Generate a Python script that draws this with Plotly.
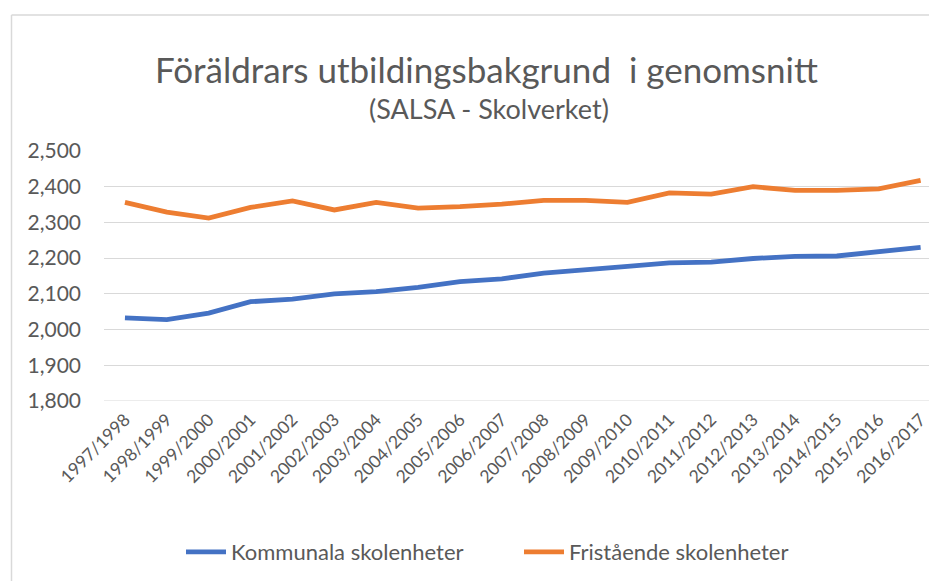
import plotly.graph_objects as go

categories = ["1997/1998", "1998/1999", "1999/2000", "2000/2001", "2001/2002",
              "2002/2003", "2003/2004", "2004/2005", "2005/2006", "2006/2007",
              "2007/2008", "2008/2009", "2009/2010", "2010/2011", "2011/2012",
              "2012/2013", "2013/2014", "2014/2015", "2015/2016", "2016/2017"]
kommunala = [2033, 2028, 2046, 2078, 2085, 2100, 2106, 2118, 2134, 2142,
             2158, 2166, 2177, 2187, 2189, 2199, 2205, 2206, 2218, 2230]
fristaende = [2356, 2329, 2312, 2342, 2360, 2335, 2356, 2340, 2344, 2351,
              2362, 2362, 2356, 2383, 2379, 2400, 2390, 2390, 2394, 2418]
y_ticks = [1800, 1900, 2000, 2100, 2200, 2300, 2400, 2500]
y_ticklabels = ["1,800", "1,900", "2,000", "2,100", "2,200", "2,300", "2,400", "2,500"]

FONT = "Lato"
GREY = "#595959"
W, H = 929, 581
L, R, T, B = 104, 0, 151, 180
PW, PH = W - L - R, H - T - B

def px_x(px):
    return (px - L) / PW

def px_y(py):
    return (H - B - py) / PH

fig = go.Figure()
fig.add_trace(go.Scatter(x=list(range(len(categories))), y=kommunala, mode="lines",
                         name="Kommunala skolenheter",
                         line=dict(color="#4472C4", width=4.8)))
fig.add_trace(go.Scatter(x=list(range(len(categories))), y=fristaende, mode="lines",
                         name="Fristående skolenheter",
                         line=dict(color="#ED7D31", width=4.8)))

fig.update_layout(
    width=W, height=H,
    margin=dict(l=L, r=R, t=T, b=B, pad=0, autoexpand=False),
    paper_bgcolor="white", plot_bgcolor="white",
    font=dict(family=FONT, color=GREY),
    showlegend=True,
    legend=dict(orientation="h", x=px_x(181), xanchor="left", y=px_y(552), yanchor="middle",
                font=dict(size=22, color=GREY, family=FONT), itemwidth=40,
                entrywidth=283, entrywidthmode="pixels",
                bgcolor="rgba(0,0,0,0)"),
    xaxis=dict(tickmode="array", tickvals=list(range(len(categories))), ticktext=categories,
               range=[-0.5, 19.2], tickangle=-45, showgrid=False, zeroline=False,
               showline=False, ticks="", ticklabelstandoff=4, automargin=False,
               ticklabeloverflow="allow",
               tickfont=dict(size=17.5, color=GREY, family=FONT)),
    yaxis=dict(tickmode="array", tickvals=y_ticks, ticktext=y_ticklabels,
               range=[1800, 2500], showgrid=True, gridcolor="#d9d9d9", gridwidth=1,
               zeroline=False, showline=False, ticks="", ticklabelstandoff=22,
               automargin=False,
               tickfont=dict(size=21, color=GREY, family=FONT)),
    annotations=[
        dict(text="Föräldrars utbildingsbakgrund  i genomsnitt", xref="paper", yref="paper",
             x=px_x(486), y=px_y(69), xanchor="center", yanchor="middle", showarrow=False,
             font=dict(size=35, color=GREY, family=FONT)),
        dict(text="(SALSA - Skolverket)", xref="paper", yref="paper",
             x=px_x(489), y=px_y(108), xanchor="center", yanchor="middle", showarrow=False,
             font=dict(size=27, color=GREY, family=FONT)),
    ],
    shapes=[
        dict(type="line", xref="paper", yref="paper", x0=px_x(11.5), x1=px_x(11.5),
             y0=px_y(15), y1=px_y(600), line=dict(color="#d9d9d9", width=1.5)),
        dict(type="line", xref="paper", yref="paper", x0=px_x(11.5), x1=px_x(960),
             y0=px_y(15), y1=px_y(15), line=dict(color="#d9d9d9", width=1.5)),
        dict(type="line", xref="paper", yref="y", x0=0, x1=1, y0=1800, y1=1800,
             line=dict(color="#d9d9d9", width=1), layer="below"),
    ],
)

fig.write_html("out.html", config={"displayModeBar": False},
               post_script="document.body.style.margin='0';document.body.style.overflow='hidden';")
